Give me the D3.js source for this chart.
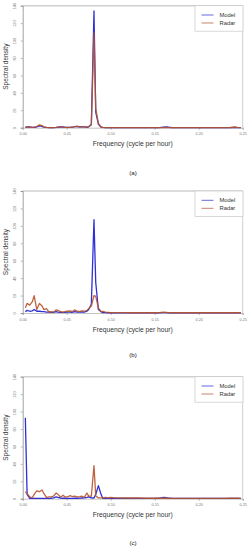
<!DOCTYPE html>
<html>
<head>
<meta charset="utf-8">
<script src="https://cdn.jsdelivr.net/npm/d3@7"></script>
<style>
  body { margin: 0; background: #fff; }
  text { font-family: "Liberation Sans", Arial, sans-serif; }
</style>
</head>
<body>
<script>
// frequency grid (cycle per hour)
const freq = [0.003, 0.005, 0.008, 0.011, 0.013, 0.016, 0.019, 0.022, 0.024, 0.027,
  0.030, 0.032, 0.035, 0.038, 0.040, 0.043, 0.046, 0.048, 0.051, 0.054,
  0.056, 0.059, 0.062, 0.065, 0.067, 0.070, 0.073, 0.075, 0.078, 0.081,
  0.083, 0.086, 0.089, 0.091, 0.094, 0.097, 0.100, 0.105, 0.110, 0.115,
  0.120, 0.130, 0.140, 0.150, 0.155, 0.160, 0.163, 0.166, 0.170, 0.180,
  0.190, 0.200, 0.210, 0.220, 0.230, 0.235, 0.238, 0.241, 0.244, 0.248];

// panel (a)
const modelA = [0.3, 1.0, 0.8, 0.3, 0.5, 1.0, 2.0, 1.5, 0.6, 0.3,
  0.2, 0.2, 0.2, 0.3, 0.5, 0.8, 0.9, 0.4, 0.3, 0.3,
  0.5, 1.2, 1.5, 0.8, 1.2, 1.0, 0.5, 1.0, 3.5, 134,
  18, 4, 0.6, 0.3, 0.2, 0.2, 0.1, 0.1, 0.1, 0.1,
  0.1, 0.1, 0.1, 0.1, 0.2, 0.6, 0.9, 0.5, 0.1, 0.1,
  0.1, 0.1, 0.1, 0.1, 0.1, 0.1, 0.2, 0.3, 0.2, 0.1];
const radarA = [0.3, 0.9, 0.7, 0.4, 0.6, 1.2, 3.2, 2.5, 0.8, 0.3,
  0.2, 0.2, 0.2, 0.3, 0.5, 0.9, 1.0, 0.4, 0.3, 0.3,
  0.5, 1.3, 1.6, 0.9, 1.3, 1.0, 0.6, 1.2, 4.0, 109,
  22, 5, 0.8, 0.3, 0.2, 0.2, 0.1, 0.1, 0.1, 0.1,
  0.1, 0.1, 0.1, 0.1, 0.1, 0.2, 0.3, 0.2, 0.1, 0.1,
  0.1, 0.1, 0.1, 0.1, 0.1, 0.2, 0.5, 0.8, 0.4, 0.1];

// panel (b)
const modelB = [1.5, 3, 2, 2.5, 4, 2, 2, 1.5, 1.5, 1,
  1, 0.8, 0.8, 1.5, 1, 0.8, 0.8, 0.8, 1, 1,
  0.8, 1.5, 1, 1, 1.2, 1, 2, 4, 10, 107,
  35, 4, 1.5, 0.5, 0.4, 0.3, 0.3, 0.2, 0.2, 0.2,
  0.2, 0.2, 0.2, 0.2, 0.2, 0.5, 0.4, 0.2, 0.2, 0.2,
  0.2, 0.2, 0.2, 0.2, 0.2, 0.2, 0.2, 0.2, 0.2, 0.2];
const radarB = [6, 11, 9, 13, 20, 4, 11, 8, 4, 5,
  1, 1.5, 1, 3.5, 3, 1.5, 1, 1.5, 2, 2.5,
  1.5, 3.5, 2, 1.5, 2.5, 2, 3, 5, 8, 20,
  19, 6, 1.5, 2, 1, 0.8, 0.5, 0.5, 0.4, 0.4,
  0.3, 0.3, 0.3, 0.3, 0.4, 1, 0.8, 0.4, 0.3, 0.3,
  0.3, 0.3, 0.3, 0.3, 0.3, 0.3, 0.3, 0.3, 0.3, 0.3];

// panel (c)
const modelC = [93, 5, 0.5, 0.3, 0.3, 0.3, 0.3, 0.3, 0.3, 0.3,
  0.3, 0.5, 1, 2, 1.5, 0.8, 0.5, 0.5, 0.4, 0.4,
  0.4, 0.5, 0.5, 0.6, 0.8, 1, 1.5, 2, 1, 0.8,
  5, 15, 5, 0.5, 0.4, 0.4, 0.4, 0.3, 0.3, 0.3,
  0.3, 0.3, 0.3, 0.3, 0.5, 1.5, 1.2, 0.5, 0.3, 0.3,
  0.3, 0.3, 0.3, 0.3, 0.3, 0.3, 0.3, 0.3, 0.3, 0.3];
const radarC = [8, 6, 2, 1, 5, 9, 8, 10, 6, 1.5,
  2, 2, 3, 6.5, 5, 2, 4, 2, 2, 3.5,
  2.5, 3, 2, 2.5, 3, 1.5, 6.5, 3, 3, 38,
  3, 1, 1, 1, 1.5, 1, 1.5, 1, 1, 0.8,
  0.8, 1, 0.5, 0.5, 0.5, 0.6, 0.5, 0.5, 0.4, 0.4,
  0.4, 0.4, 0.4, 0.4, 0.4, 0.5, 0.5, 0.5, 0.5, 0.4];

const xTicks = [0, 0.05, 0.10, 0.15, 0.20, 0.25];
const yTicks = [0, 20, 40, 60, 80, 100, 120, 140];
const seriesNames = ["Model", "Radar"];
const captions = ["(a)", "(b)", "(c)"];

const panels = [
  { model: modelA, radar: radarA, top: 5.7, cap: 173 },
  { model: modelB, radar: radarB, top: 191, cap: 355 },
  { model: modelC, radar: radarC, top: 376.7, cap: 543 }
];

const width = 248;
const height = 550;
const plotH = 122;
const colors = ["#3030d8", "#b5532c"];

const svg = d3.select("body")
  .append("svg")
  .attr("width", width)
  .attr("height", height)
  .style("background", "#fff");

const x = d3.scaleLinear().domain([0, 0.25]).range([22.7, 242.7]);
const y = d3.scaleLinear().domain([0, 140]).range([plotH, 0]);

panels.forEach((p, i) => {
  const g = svg.append("g").attr("transform", `translate(0,${p.top})`);

  // box: top and right lighter
  g.append("line")
    .attr("x1", x(0)).attr("x2", x(0.25))
    .attr("y1", 0).attr("y2", 0)
    .attr("stroke", "#cfcfcf").attr("stroke-width", 1.5);
  g.append("line")
    .attr("x1", x(0.25)).attr("x2", x(0.25))
    .attr("y1", 0).attr("y2", plotH)
    .attr("stroke", "#cfcfcf").attr("stroke-width", 1);

  // axes
  const yAxis = g.append("g")
    .attr("transform", `translate(${x(0)},0)`)
    .call(d3.axisLeft(y).tickValues(yTicks).tickSize(2).tickPadding(3));
  yAxis.select(".domain").attr("stroke", "#8a8a8a").attr("stroke-width", 0.8);
  yAxis.selectAll(".tick line").attr("stroke", "#8a8a8a").attr("stroke-width", 0.6);
  yAxis.selectAll(".tick text")
    .attr("fill", "#777")
    .style("font-size", "3.8px")
    .attr("transform", "rotate(-90)")
    .attr("x", 0)
    .attr("y", -6.5)
    .attr("dy", 0)
    .attr("text-anchor", "middle");

  const xAxis = g.append("g")
    .attr("transform", `translate(0,${plotH})`)
    .call(d3.axisBottom(x).tickValues(xTicks).tickFormat(d3.format(".2f")).tickSize(2).tickPadding(3));
  xAxis.select(".domain").attr("stroke", "#9a9a9a").attr("stroke-width", 0.6);
  xAxis.selectAll(".tick line").attr("stroke", "#8a8a8a").attr("stroke-width", 0.6);
  xAxis.selectAll(".tick text").attr("fill", "#777").style("font-size", "3.8px");

  // lines
  const line = d3.line().x((d, k) => x(freq[k])).y(d => y(d));
  [p.model, p.radar].forEach((vals, s) => {
    g.append("path")
      .datum(vals)
      .attr("d", line)
      .attr("fill", "none")
      .attr("stroke", colors[s])
      .attr("stroke-width", 1.3)
      .attr("stroke-linejoin", "round")
      .attr("opacity", s === 1 ? 0.9 : 1);
  });

  // legend
  const lg = g.append("g").attr("transform", "translate(195,0)");
  lg.append("rect")
    .attr("width", 48).attr("height", 25.5)
    .attr("fill", "#fff").attr("stroke", "#c8c8c8").attr("stroke-width", 0.7);
  seriesNames.forEach((name, s) => {
    const ly = 9.3 + s * 8;
    lg.append("line")
      .attr("x1", 6.5).attr("x2", 18.5)
      .attr("y1", ly).attr("y2", ly)
      .attr("stroke", colors[s]).attr("stroke-width", 0.9).attr("opacity", 0.8);
    lg.append("text")
      .attr("x", 24.5).attr("y", ly + 2)
      .attr("fill", "#333")
      .style("font-size", "5.8px")
      .text(name);
  });

  // axis titles
  g.append("text")
    .attr("x", 132.7).attr("y", 140.8)
    .attr("text-anchor", "middle")
    .attr("fill", "#333")
    .style("font-size", "6.7px")
    .text("Frequency (cycle per hour)");
  g.append("text")
    .attr("transform", `translate(8,${plotH / 2}) rotate(-90)`)
    .attr("text-anchor", "middle")
    .attr("fill", "#333")
    .style("font-size", "6.5px")
    .text("Spectral density");

  // caption
  svg.append("text")
    .attr("x", 133).attr("y", p.cap + 2)
    .attr("text-anchor", "middle")
    .attr("fill", "#222")
    .style("font-size", "6.2px")
    .text(captions[i]);
});
</script>
</body>
</html>
